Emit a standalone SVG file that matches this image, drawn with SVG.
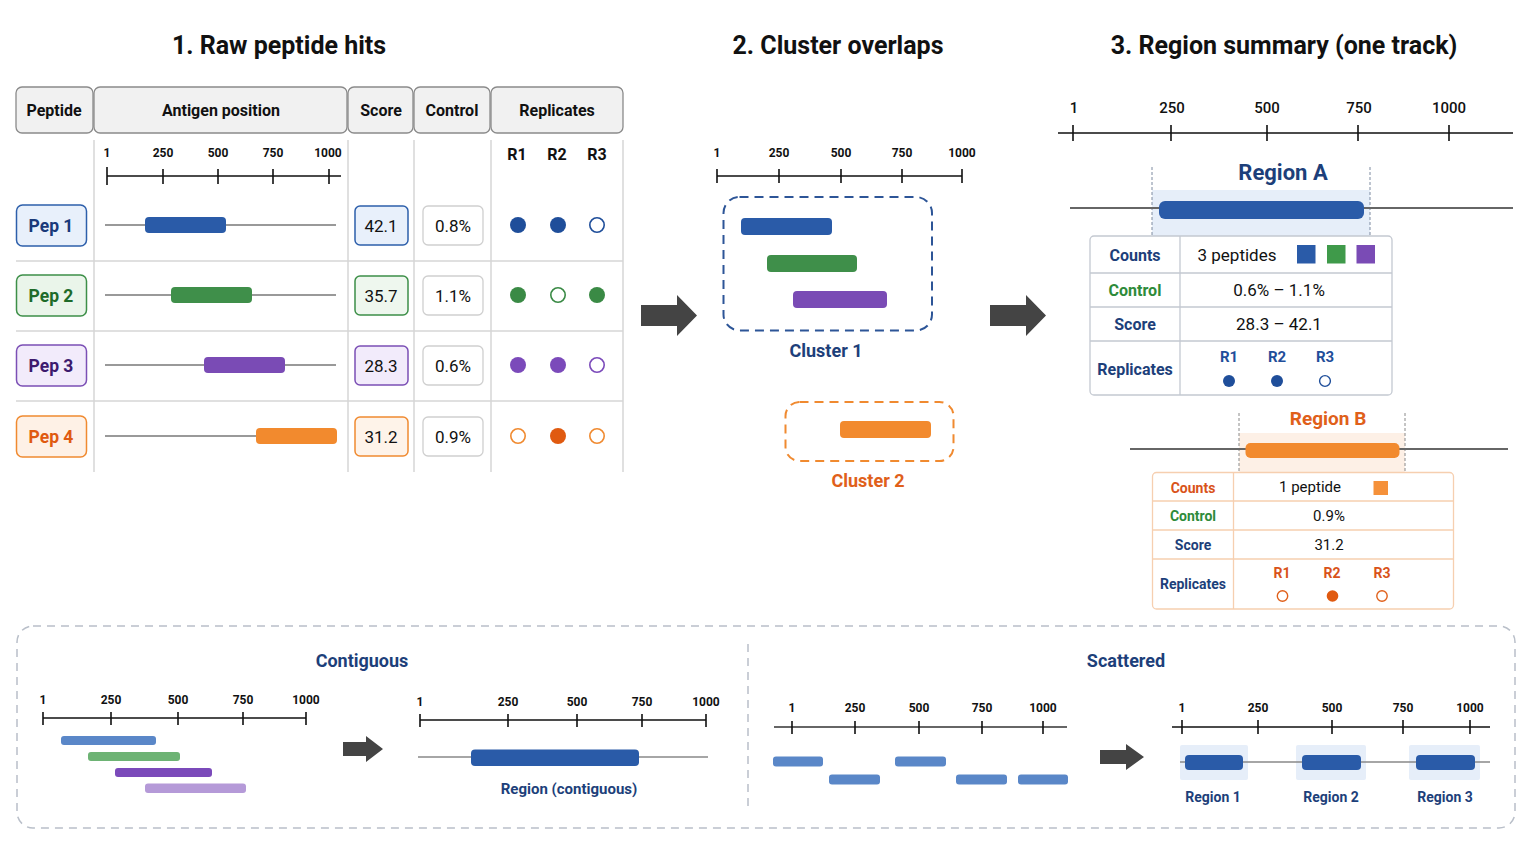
<svg xmlns="http://www.w3.org/2000/svg" width="1536" height="864" viewBox="0 0 1536 864">
<style>
text{font-family:Roboto,"Liberation Sans",sans-serif;dominant-baseline:central;text-anchor:middle;}
.title{font-size:25px;font-weight:700;fill:#111;}
.hdr{font-size:16px;font-weight:700;fill:#111;}
.hcell{fill:#f1f1f1;stroke:#8a8a8a;stroke-width:1.3;}
.grid{stroke:#d6d6d6;stroke-width:1.5;fill:none;}
.ax{stroke:#111;stroke-width:1.6;fill:none;}
.axl{font-size:12px;font-weight:700;fill:#111;}
.trk{stroke:#777;stroke-width:1.6;}
.num{font-size:17px;fill:#111;}
.navy{fill:#1d3f7a;}
.arrow{fill:#444;}
.tA{fill:#fff;stroke:#c4c9d1;stroke-width:1.3;}
.tAl{stroke:#c4c9d1;stroke-width:1.3;}
.tB{fill:#fff;stroke:#f6cfb0;stroke-width:1.3;}
.tBl{stroke:#f6cfb0;stroke-width:1.3;}
.lbA{font-size:16px;font-weight:700;}
.lbB{font-size:14px;font-weight:700;}
.vA{font-size:17px;fill:#111;}
.vB{font-size:15px;fill:#111;}
</style>
<rect width="1536" height="864" fill="#fff"/>

<!-- Titles -->
<text class="title" x="279" y="45">1. Raw peptide hits</text>
<text class="title" x="838" y="45">2. Cluster overlaps</text>
<text class="title" x="1284" y="45">3. Region summary (one track)</text>

<!-- Panel 1 table -->
<g id="table1-header">
<rect class="hcell" x="16" y="87" width="77" height="46" rx="6"/>
<rect class="hcell" x="94" y="87" width="253" height="46" rx="6"/>
<rect class="hcell" x="348" y="87" width="65" height="46" rx="6"/>
<rect class="hcell" x="414" y="87" width="76" height="46" rx="6"/>
<rect class="hcell" x="491" y="87" width="132" height="46" rx="6"/>
<text class="hdr" x="54" y="110">Peptide</text>
<text class="hdr" x="221" y="110">Antigen position</text>
<text class="hdr" x="381" y="110">Score</text>
<text class="hdr" x="452" y="110">Control</text>
<text class="hdr" x="557" y="110">Replicates</text>
</g>
<g id="table1-grid">
<path class="grid" d="M94 140V472M348 140V472M414 140V472M491 140V472M623 140V472M16 261H623M16 331H623M16 401H623"/>
<text class="hdr" x="517" y="154">R1</text>
<text class="hdr" x="557" y="154">R2</text>
<text class="hdr" x="597" y="154">R3</text>
</g>
<g id="axis1">
<path class="ax" d="M107 176H341M107 167V185M163 169V184M218 169V184M273 169V184M329 169V184"/>
<text class="axl" x="107" y="153">1</text>
<text class="axl" x="163" y="153">250</text>
<text class="axl" x="218" y="153">500</text>
<text class="axl" x="273" y="153">750</text>
<text class="axl" x="328" y="153">1000</text>
</g>

<g id="pep1">
<rect x="16.5" y="205" width="70" height="41" rx="6" fill="#e8f0fb" stroke="#2d5fab" stroke-width="1.5"/>
<text x="51" y="226" font-size="17.5" font-weight="700" fill="#1a3a7a">Pep 1</text>
<line class="trk" x1="105" y1="225" x2="336" y2="225"/>
<rect x="145" y="217" width="81" height="16" rx="4" fill="#2a5ba8"/>
<rect x="355" y="206" width="53" height="39" rx="5" fill="#e8f0fb" stroke="#2d5fab" stroke-width="1.5"/>
<text class="num" x="381" y="226">42.1</text>
<rect x="423" y="206" width="60" height="39" rx="5" fill="#fff" stroke="#cfcfcf" stroke-width="1.3"/>
<text class="num" x="453" y="226">0.8%</text>
<circle cx="518" cy="225" r="8" fill="#1f4e9a"/>
<circle cx="558" cy="225" r="8" fill="#1f4e9a"/>
<circle cx="597" cy="225" r="7.2" fill="#fff" stroke="#1f4e9a" stroke-width="1.6"/>
</g>
<g id="pep2">
<rect x="16.5" y="275" width="70" height="41" rx="6" fill="#eaf5ea" stroke="#3d8f48" stroke-width="1.5"/>
<text x="51" y="296" font-size="17.5" font-weight="700" fill="#1e6b2a">Pep 2</text>
<line class="trk" x1="105" y1="295" x2="336" y2="295"/>
<rect x="171" y="287" width="81" height="16" rx="4" fill="#3f8f4a"/>
<rect x="355" y="276" width="53" height="39" rx="5" fill="#eef7ee" stroke="#3d8f48" stroke-width="1.5"/>
<text class="num" x="381" y="296">35.7</text>
<rect x="423" y="276" width="60" height="39" rx="5" fill="#fff" stroke="#cfcfcf" stroke-width="1.3"/>
<text class="num" x="453" y="296">1.1%</text>
<circle cx="518" cy="295" r="8" fill="#3a8a45"/>
<circle cx="558" cy="295" r="7.2" fill="#fff" stroke="#3a8a45" stroke-width="1.6"/>
<circle cx="597" cy="295" r="8" fill="#3a8a45"/>
</g>
<g id="pep3">
<rect x="16.5" y="345" width="70" height="41" rx="6" fill="#f2ebfb" stroke="#7b4fb5" stroke-width="1.5"/>
<text x="51" y="366" font-size="17.5" font-weight="700" fill="#3d1a6e">Pep 3</text>
<line class="trk" x1="105" y1="365" x2="336" y2="365"/>
<rect x="204" y="357" width="81" height="16" rx="4" fill="#7a4bb5"/>
<rect x="355" y="346" width="53" height="39" rx="5" fill="#f2ebfb" stroke="#7b4fb5" stroke-width="1.5"/>
<text class="num" x="381" y="366">28.3</text>
<rect x="423" y="346" width="60" height="39" rx="5" fill="#fff" stroke="#cfcfcf" stroke-width="1.3"/>
<text class="num" x="453" y="366">0.6%</text>
<circle cx="518" cy="365" r="8" fill="#7b4aba"/>
<circle cx="558" cy="365" r="8" fill="#7b4aba"/>
<circle cx="597" cy="365" r="7.2" fill="#fff" stroke="#7b4aba" stroke-width="1.6"/>
</g>
<g id="pep4">
<rect x="16.5" y="416" width="70" height="41" rx="6" fill="#fef1e6" stroke="#f08a30" stroke-width="1.5"/>
<text x="51" y="437" font-size="17.5" font-weight="700" fill="#e05a10">Pep 4</text>
<line class="trk" x1="105" y1="436" x2="336" y2="436"/>
<rect x="256" y="428" width="81" height="16" rx="4" fill="#f28a2e"/>
<rect x="355" y="417" width="53" height="39" rx="5" fill="#fef3e9" stroke="#f08a30" stroke-width="1.5"/>
<text class="num" x="381" y="437">31.2</text>
<rect x="423" y="417" width="60" height="39" rx="5" fill="#fff" stroke="#cfcfcf" stroke-width="1.3"/>
<text class="num" x="453" y="437">0.9%</text>
<circle cx="518" cy="436" r="7.2" fill="#fff" stroke="#f08a30" stroke-width="1.6"/>
<circle cx="558" cy="436" r="8" fill="#e05a10"/>
<circle cx="597" cy="436" r="7.2" fill="#fff" stroke="#f08a30" stroke-width="1.6"/>
</g>

<!-- Connectors (block arrows) -->
<g id="connectors">
<path class="arrow" d="M641 305H677V295L697 315.5L677 336V326H641Z"/>
<path class="arrow" d="M990 305H1026V295L1046 315.5L1026 336V326H990Z"/>
<path class="arrow" d="M343 742H366V736L383 749L366 762V756H343Z"/>
<path class="arrow" d="M1100 750H1126V744L1144 757L1126 770V764H1100Z"/>
</g>

<!-- Panel 2 -->
<g id="axis2">
<path class="ax" d="M717 176H962M717 169V183M779 169V183M841 169V183M902 169V183M962 169V183"/>
<text class="axl" x="717" y="153">1</text>
<text class="axl" x="779" y="153">250</text>
<text class="axl" x="841" y="153">500</text>
<text class="axl" x="902" y="153">750</text>
<text class="axl" x="962" y="153">1000</text>
</g>
<g id="cluster1">
<rect x="723.5" y="197" width="208.5" height="133.5" rx="16" fill="none" stroke="#2d5597" stroke-width="2" stroke-dasharray="9 6"/>
<rect x="741" y="218" width="91" height="17" rx="4" fill="#2a5ba8"/>
<rect x="767" y="255" width="90" height="17" rx="4" fill="#3f8f4a"/>
<rect x="793" y="291" width="94" height="17" rx="4" fill="#7a4bb5"/>
<text x="826" y="350" font-size="18" font-weight="700" fill="#1d3f7a">Cluster 1</text>
</g>
<g id="cluster2">
<rect x="785.5" y="402" width="168" height="59" rx="14" fill="none" stroke="#f08a30" stroke-width="2" stroke-dasharray="9 6"/>
<rect x="840" y="421" width="91" height="17" rx="4" fill="#f28a2e"/>
<text x="868" y="480" font-size="18" font-weight="700" fill="#e0601a">Cluster 2</text>
</g>

<!-- Panel 3 -->
<g id="axis3">
<path class="ax" d="M1058 133H1513M1073 125V141M1171 125V141M1267 125V141M1358 125V141M1449 125V141"/>
<text x="1074" y="108" font-size="15" font-weight="500" fill="#111">1</text>
<text x="1172" y="108" font-size="15" font-weight="500" fill="#111">250</text>
<text x="1267" y="108" font-size="15" font-weight="500" fill="#111">500</text>
<text x="1359" y="108" font-size="15" font-weight="500" fill="#111">750</text>
<text x="1449" y="108" font-size="15" font-weight="500" fill="#111">1000</text>
</g>
<g id="regionA">
<rect x="1152" y="190" width="218" height="46" fill="#e6eef9"/>
<path d="M1152 167V236M1370 167V236" stroke="#7d8aa0" stroke-width="1" stroke-dasharray="3 2"/>
<line x1="1070" y1="208" x2="1513" y2="208" stroke="#666" stroke-width="1.8"/>
<rect x="1159" y="201" width="205" height="18" rx="6" fill="#2a5ba8"/>
<text x="1283" y="172" font-size="22" font-weight="700" fill="#1d3f7a">Region A</text>
</g>
<g id="tableA">
<rect class="tA" x="1090" y="236" width="302" height="159" rx="4"/>
<path class="tAl" d="M1180 236V395M1090 273H1392M1090 307H1392M1090 341H1392"/>
<text class="lbA navy" x="1135" y="255">Counts</text>
<text class="lbA" x="1135" y="290" fill="#2e8b3a">Control</text>
<text class="lbA navy" x="1135" y="324">Score</text>
<text class="lbA navy" x="1135" y="369">Replicates</text>
<text class="vA" x="1237" y="255">3 peptides</text>
<rect x="1297" y="245" width="18.5" height="18.5" fill="#2a5ba8"/>
<rect x="1327" y="245" width="18.5" height="18.5" fill="#3f9a4a"/>
<rect x="1356.5" y="245" width="18.5" height="18.5" fill="#7a4bb5"/>
<text class="vA" x="1279" y="290">0.6% – 1.1%</text>
<text class="vA" x="1279" y="324">28.3 – 42.1</text>
<text x="1229" y="357" font-size="15" font-weight="700" fill="#1f4e9a">R1</text>
<text x="1277" y="357" font-size="15" font-weight="700" fill="#1f4e9a">R2</text>
<text x="1325" y="357" font-size="15" font-weight="700" fill="#1f4e9a">R3</text>
<circle cx="1229" cy="381" r="6" fill="#1f4e9a"/>
<circle cx="1277" cy="381" r="6" fill="#1f4e9a"/>
<circle cx="1325" cy="381" r="5.4" fill="#fff" stroke="#1f4e9a" stroke-width="1.4"/>
</g>
<g id="regionB">
<rect x="1239" y="433" width="166" height="39" fill="#fdf0e6"/>
<path d="M1239 413V472M1405 413V472" stroke="#8a8a8a" stroke-width="1" stroke-dasharray="3 2"/>
<line x1="1130" y1="449" x2="1508" y2="449" stroke="#666" stroke-width="1.8"/>
<rect x="1245.5" y="443" width="154" height="15" rx="5" fill="#f28a2e"/>
<text x="1328" y="418" font-size="19" font-weight="700" fill="#e0601a">Region B</text>
</g>
<g id="tableB">
<rect class="tB" x="1152.5" y="472.5" width="301" height="136.5" rx="4"/>
<path class="tBl" d="M1233.5 472.5V609M1152.5 501H1453.5M1152.5 530H1453.5M1152.5 559H1453.5"/>
<text class="lbB" x="1193" y="488" fill="#d9531a">Counts</text>
<text class="lbB" x="1193" y="516" fill="#2e8b3a">Control</text>
<text class="lbB navy" x="1193" y="545">Score</text>
<text class="lbB navy" x="1193" y="584">Replicates</text>
<text class="vB" x="1310" y="487">1 peptide</text>
<rect x="1373.5" y="481" width="14.5" height="14" fill="#f5913a"/>
<text class="vB" x="1329" y="516">0.9%</text>
<text class="vB" x="1329" y="545">31.2</text>
<text x="1282" y="573" font-size="14" font-weight="700" fill="#d9531a">R1</text>
<text x="1332" y="573" font-size="14" font-weight="700" fill="#d9531a">R2</text>
<text x="1382" y="573" font-size="14" font-weight="700" fill="#d9531a">R3</text>
<circle cx="1282.5" cy="596" r="5.2" fill="#fff" stroke="#e0601a" stroke-width="1.4"/>
<circle cx="1332.5" cy="596" r="5.8" fill="#e05a10"/>
<circle cx="1382" cy="596" r="5.2" fill="#fff" stroke="#e0601a" stroke-width="1.4"/>
</g>

<!-- Bottom panel -->
<g id="bottom-frame">
<rect x="17" y="626" width="1498" height="202" rx="16" fill="none" stroke="#b9bfc9" stroke-width="1.5" stroke-dasharray="8 6"/>
<line x1="748" y1="644" x2="748" y2="812" stroke="#b9bfc9" stroke-width="1.5" stroke-dasharray="8 6"/>
</g>
<g id="contiguous">
<text x="362" y="660" font-size="18" font-weight="700" fill="#1d3f7a">Contiguous</text>
<path class="ax" d="M43 718H306M43 712V725M111 712V725M178 712V725M243 712V725M306 712V725"/>
<text class="axl" x="43" y="700">1</text>
<text class="axl" x="111" y="700">250</text>
<text class="axl" x="178" y="700">500</text>
<text class="axl" x="243" y="700">750</text>
<text class="axl" x="306" y="700">1000</text>
<rect x="61" y="736" width="95" height="9" rx="3" fill="#5a87c8"/>
<rect x="88" y="752" width="92" height="9" rx="3" fill="#6db374"/>
<rect x="115" y="768" width="97" height="9" rx="3" fill="#7b4aba"/>
<rect x="145" y="783.5" width="101" height="9.5" rx="3" fill="#b59ad8"/>
</g>
<g id="contiguous-result">
<path class="ax" d="M420 720H706M420 714V727M508 714V727M577 714V727M642 714V727M706 714V727"/>
<text class="axl" x="420" y="702">1</text>
<text class="axl" x="508" y="702">250</text>
<text class="axl" x="577" y="702">500</text>
<text class="axl" x="642" y="702">750</text>
<text class="axl" x="706" y="702">1000</text>
<line x1="418" y1="757" x2="708" y2="757" stroke="#888" stroke-width="1.6"/>
<rect x="471" y="749.5" width="168" height="16.5" rx="4" fill="#2a5ba8"/>
<text x="569" y="789" font-size="15" font-weight="700" fill="#1d3f7a">Region (contiguous)</text>
</g>
<g id="scattered">
<text x="1126" y="660" font-size="18" font-weight="700" fill="#1d3f7a">Scattered</text>
<path d="M774 727H1067" stroke="#666" stroke-width="2"/>
<path class="ax" d="M792 721V734M855 721V734M919 721V734M982 721V734M1043 721V734"/>
<text class="axl" x="792" y="708">1</text>
<text class="axl" x="855" y="708">250</text>
<text class="axl" x="919" y="708">500</text>
<text class="axl" x="982" y="708">750</text>
<text class="axl" x="1043" y="708">1000</text>
<rect x="773" y="756.5" width="50" height="10" rx="3" fill="#5a87c8"/>
<rect x="895" y="756.5" width="51" height="10" rx="3" fill="#5a87c8"/>
<rect x="829" y="774.5" width="51" height="10" rx="3" fill="#5a87c8"/>
<rect x="956" y="774.5" width="51" height="10" rx="3" fill="#5a87c8"/>
<rect x="1018" y="774.5" width="50" height="10" rx="3" fill="#5a87c8"/>
</g>
<g id="scattered-result">
<path class="ax" d="M1172 727H1490M1182 720V734M1258 720V734M1332 720V734M1403 720V734M1470 720V734"/>
<text class="axl" x="1182" y="708">1</text>
<text class="axl" x="1258" y="708">250</text>
<text class="axl" x="1332" y="708">500</text>
<text class="axl" x="1403" y="708">750</text>
<text class="axl" x="1470" y="708">1000</text>
<rect x="1180" y="745" width="68" height="35" rx="2" fill="#e6eef9"/>
<rect x="1296" y="745" width="70" height="35" rx="2" fill="#e6eef9"/>
<rect x="1409" y="745" width="71" height="35" rx="2" fill="#e6eef9"/>
<line x1="1180" y1="762" x2="1490" y2="762" stroke="#888" stroke-width="1.6"/>
<rect x="1185" y="755" width="58" height="15" rx="4" fill="#2a5ba8"/>
<rect x="1302" y="755" width="59" height="15" rx="4" fill="#2a5ba8"/>
<rect x="1416" y="755" width="59" height="15" rx="4" fill="#2a5ba8"/>
<text x="1213" y="797" font-size="14" font-weight="700" fill="#1d3f7a">Region 1</text>
<text x="1331" y="797" font-size="14" font-weight="700" fill="#1d3f7a">Region 2</text>
<text x="1445" y="797" font-size="14" font-weight="700" fill="#1d3f7a">Region 3</text>
</g>
</svg>
